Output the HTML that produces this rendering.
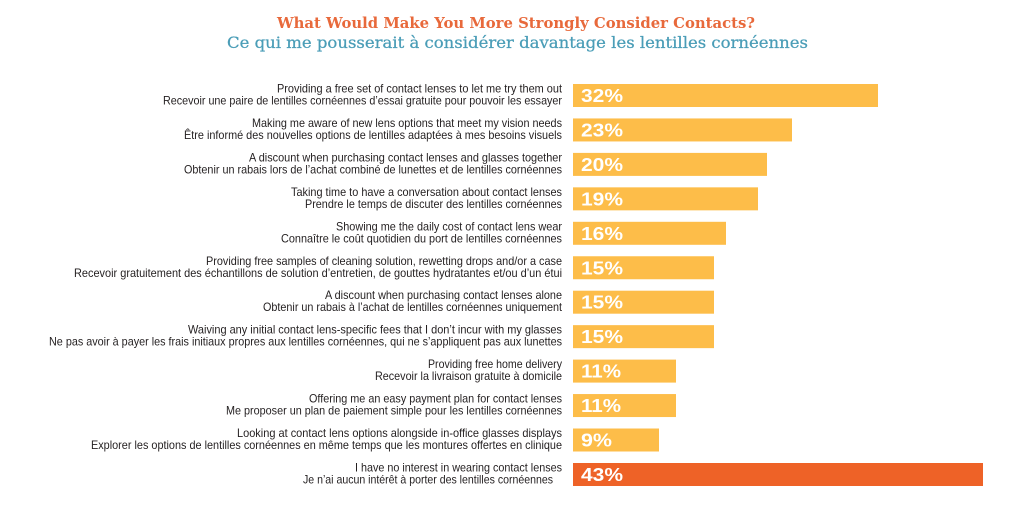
<!DOCTYPE html>
<html>
<head>
<meta charset="utf-8">
<style>
html,body{margin:0;padding:0;background:#ffffff;}
svg{display:block;}
.lab{font-family:"Liberation Sans Narrow","Liberation Sans",sans-serif;font-size:11.8px;fill:#231f20;}
.pct{font-family:"Liberation Sans",sans-serif;font-weight:bold;font-size:18.5px;fill:#ffffff;}
.t1{font-family:"DejaVu Serif","Liberation Serif",serif;font-weight:bold;font-size:15px;fill:#e8693b;}
.t2{font-family:"DejaVu Serif","Liberation Serif",serif;font-size:15.5px;fill:#4a9db7;stroke:#4a9db7;stroke-width:0.25;}
</style>
</head>
<body>
<svg width="1024" height="513" viewBox="0 0 1024 513" xmlns="http://www.w3.org/2000/svg">
<rect x="0" y="0" width="1024" height="513" fill="#ffffff"/>
<text class="t1" x="277" y="28" textLength="478" lengthAdjust="spacingAndGlyphs">What Would Make You More Strongly Consider Contacts?</text>
<text class="t2" x="227" y="48" textLength="581" lengthAdjust="spacingAndGlyphs">Ce qui me pousserait à considérer davantage les lentilles cornéennes</text>

<!-- Row 0 -->
<rect x="573" y="84" width="305" height="23" fill="#fdbd49"/>
<text class="pct" x="581" y="102" textLength="42" lengthAdjust="spacingAndGlyphs">32%</text>
<text class="lab" x="277" y="92.5" textLength="285" lengthAdjust="spacingAndGlyphs">Providing a free set of contact lenses to let me try them out</text>
<text class="lab" x="163" y="104.5" textLength="399" lengthAdjust="spacingAndGlyphs">Recevoir une paire de lentilles cornéennes d’essai gratuite pour pouvoir les essayer</text>

<!-- Row 1 -->
<rect x="573" y="118.45" width="219" height="23" fill="#fdbd49"/>
<text class="pct" x="581" y="136.45" textLength="42" lengthAdjust="spacingAndGlyphs">23%</text>
<text class="lab" x="252" y="126.95" textLength="310" lengthAdjust="spacingAndGlyphs">Making me aware of new lens options that meet my vision needs</text>
<text class="lab" x="184" y="138.95" textLength="378" lengthAdjust="spacingAndGlyphs">Être informé des nouvelles options de lentilles adaptées à mes besoins visuels</text>

<!-- Row 2 -->
<rect x="573" y="152.9" width="194" height="23" fill="#fdbd49"/>
<text class="pct" x="581" y="170.9" textLength="42" lengthAdjust="spacingAndGlyphs">20%</text>
<text class="lab" x="249" y="161.4" textLength="313" lengthAdjust="spacingAndGlyphs">A discount when purchasing contact lenses and glasses together</text>
<text class="lab" x="184" y="173.4" textLength="378" lengthAdjust="spacingAndGlyphs">Obtenir un rabais lors de l’achat combiné de lunettes et de lentilles cornéennes</text>

<!-- Row 3 -->
<rect x="573" y="187.35" width="185" height="23" fill="#fdbd49"/>
<text class="pct" x="581" y="205.35" textLength="42" lengthAdjust="spacingAndGlyphs">19%</text>
<text class="lab" x="291" y="195.85" textLength="271" lengthAdjust="spacingAndGlyphs">Taking time to have a conversation about contact lenses</text>
<text class="lab" x="305" y="207.85" textLength="257" lengthAdjust="spacingAndGlyphs">Prendre le temps de discuter des lentilles cornéennes</text>

<!-- Row 4 -->
<rect x="573" y="221.8" width="153" height="23" fill="#fdbd49"/>
<text class="pct" x="581" y="239.8" textLength="42" lengthAdjust="spacingAndGlyphs">16%</text>
<text class="lab" x="336" y="230.3" textLength="226" lengthAdjust="spacingAndGlyphs">Showing me the daily cost of contact lens wear</text>
<text class="lab" x="281" y="242.3" textLength="281" lengthAdjust="spacingAndGlyphs">Connaître le coût quotidien du port de lentilles cornéennes</text>

<!-- Row 5 -->
<rect x="573" y="256.25" width="141" height="23" fill="#fdbd49"/>
<text class="pct" x="581" y="274.25" textLength="42" lengthAdjust="spacingAndGlyphs">15%</text>
<text class="lab" x="206" y="264.75" textLength="356" lengthAdjust="spacingAndGlyphs">Providing free samples of cleaning solution, rewetting drops and/or a case</text>
<text class="lab" x="74" y="276.75" textLength="488" lengthAdjust="spacingAndGlyphs">Recevoir gratuitement des échantillons de solution d’entretien, de gouttes hydratantes et/ou d’un étui</text>

<!-- Row 6 -->
<rect x="573" y="290.7" width="141" height="23" fill="#fdbd49"/>
<text class="pct" x="581" y="308.7" textLength="42" lengthAdjust="spacingAndGlyphs">15%</text>
<text class="lab" x="325" y="299.2" textLength="237" lengthAdjust="spacingAndGlyphs">A discount when purchasing contact lenses alone</text>
<text class="lab" x="263" y="311.2" textLength="299" lengthAdjust="spacingAndGlyphs">Obtenir un rabais à l’achat de lentilles cornéennes uniquement</text>

<!-- Row 7 -->
<rect x="573" y="325.15" width="141" height="23" fill="#fdbd49"/>
<text class="pct" x="581" y="343.15" textLength="42" lengthAdjust="spacingAndGlyphs">15%</text>
<text class="lab" x="188" y="333.65" textLength="374" lengthAdjust="spacingAndGlyphs">Waiving any initial contact lens-specific fees that I don’t incur with my glasses</text>
<text class="lab" x="49" y="345.65" textLength="513" lengthAdjust="spacingAndGlyphs">Ne pas avoir à payer les frais initiaux propres aux lentilles cornéennes, qui ne s’appliquent pas aux lunettes</text>

<!-- Row 8 -->
<rect x="573" y="359.6" width="103" height="23" fill="#fdbd49"/>
<text class="pct" x="581" y="377.6" textLength="40" lengthAdjust="spacingAndGlyphs">11%</text>
<text class="lab" x="428" y="368.1" textLength="134" lengthAdjust="spacingAndGlyphs">Providing free home delivery</text>
<text class="lab" x="375" y="380.1" textLength="187" lengthAdjust="spacingAndGlyphs">Recevoir la livraison gratuite à domicile</text>

<!-- Row 9 -->
<rect x="573" y="394.05" width="103" height="23" fill="#fdbd49"/>
<text class="pct" x="581" y="412.05" textLength="40" lengthAdjust="spacingAndGlyphs">11%</text>
<text class="lab" x="309" y="402.55" textLength="253" lengthAdjust="spacingAndGlyphs">Offering me an easy payment plan for contact lenses</text>
<text class="lab" x="226" y="414.55" textLength="336" lengthAdjust="spacingAndGlyphs">Me proposer un plan de paiement simple pour les lentilles cornéennes</text>

<!-- Row 10 -->
<rect x="573" y="428.5" width="86" height="23" fill="#fdbd49"/>
<text class="pct" x="581" y="446.5" textLength="31" lengthAdjust="spacingAndGlyphs">9%</text>
<text class="lab" x="237" y="437" textLength="325" lengthAdjust="spacingAndGlyphs">Looking at contact lens options alongside in-office glasses displays</text>
<text class="lab" x="91" y="449" textLength="471" lengthAdjust="spacingAndGlyphs">Explorer les options de lentilles cornéennes en même temps que les montures offertes en clinique</text>

<!-- Row 11 -->
<rect x="573" y="463" width="410" height="23" fill="#ee6227"/>
<text class="pct" x="581" y="481" textLength="42" lengthAdjust="spacingAndGlyphs">43%</text>
<text class="lab" x="355" y="471.5" textLength="207" lengthAdjust="spacingAndGlyphs">I have no interest in wearing contact lenses</text>
<text class="lab" x="303" y="483.5" textLength="250" lengthAdjust="spacingAndGlyphs">Je n’ai aucun intérêt à porter des lentilles cornéennes</text>
</svg>
</body>
</html>
